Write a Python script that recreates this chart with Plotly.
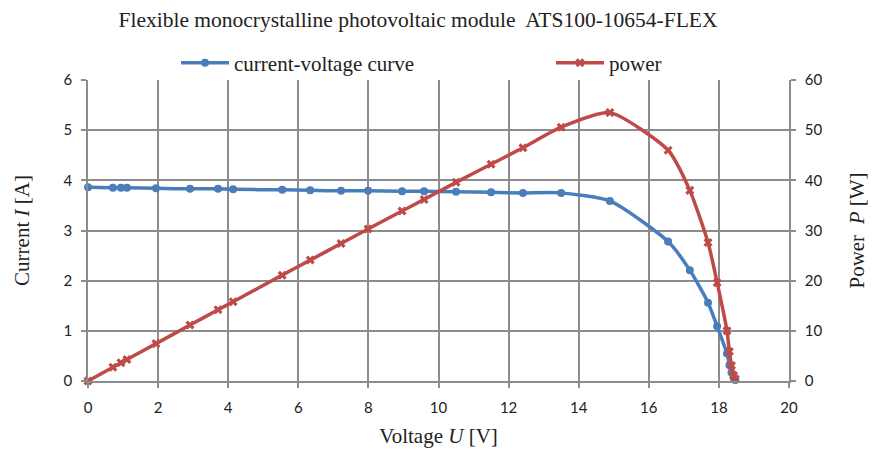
import plotly.graph_objects as go

# Measured I-V characteristic of the ATS100-10654-FLEX module
voltage_v = [0, 0.71, 0.94, 1.11, 1.94, 2.91, 3.71, 4.14, 5.54, 6.34, 7.22, 7.99,
             8.96, 9.59, 10.5, 11.5, 12.41, 13.5, 14.89, 16.55, 17.17, 17.69,
             17.95, 18.23, 18.30, 18.36, 18.42, 18.47]
current_a = [3.86, 3.85, 3.85, 3.85, 3.84, 3.83, 3.83, 3.82, 3.81, 3.80, 3.79, 3.79,
             3.78, 3.78, 3.77, 3.76, 3.75, 3.75, 3.59, 2.78, 2.21, 1.56,
             1.09, 0.55, 0.32, 0.17, 0.06, 0.02]
power_w = [0, 2.73, 3.62, 4.27, 7.45, 11.15, 14.2, 15.8, 21.1, 24.1, 27.4, 30.3,
           33.9, 36.2, 39.6, 43.2, 46.5, 50.6, 53.5, 46.0, 38.0, 27.6,
           19.6, 10.0, 5.9, 3.1, 1.1, 0.4]

x_ticks = list(range(0, 21, 2))
i_ticks = list(range(0, 7))
p_ticks = list(range(0, 61, 10))

BLUE = "#4A7EBB"
RED = "#BE4B48"
GRID = "#8C8C8C"
SERIF = "Liberation Serif, Times New Roman, serif"
SANS = "Lato, Open Sans, sans-serif"

fig = go.Figure()
fig.add_trace(go.Scatter(
    x=voltage_v, y=current_a, name="current-voltage curve",
    mode="lines+markers",
    line=dict(color=BLUE, width=3.5, shape="spline", smoothing=0.6),
    marker=dict(symbol="circle", size=8, color=BLUE),
    cliponaxis=False, yaxis="y", legend="legend", showlegend=True,
))
fig.add_trace(go.Scatter(
    x=voltage_v, y=power_w, name="power",
    mode="lines+markers",
    line=dict(color=RED, width=3.5, shape="spline", smoothing=0.6),
    marker=dict(symbol="x", size=8, color=RED),
    cliponaxis=False, yaxis="y2", legend="legend2", showlegend=True,
))

axis_common = dict(
    showgrid=True, gridcolor=GRID, gridwidth=1.5,
    showline=True, linecolor=GRID, linewidth=1.5,
    ticks="outside", ticklen=5, tickcolor=GRID, tickwidth=1.5,
    tickfont=dict(family=SANS, size=15, color="#222"),
    zeroline=False,
)

legend_common = dict(
    orientation="h", xanchor="left", xref="container",
    y=1 - 63 / 452, yanchor="middle", yref="container",
    font=dict(family=SERIF, size=21, color="#222"),
    itemwidth=48,
    bgcolor="rgba(0,0,0,0)",
)

fig.update_layout(
    width=872, height=452, showlegend=True,
    margin=dict(l=88, r=83, t=80, b=71, autoexpand=False),
    paper_bgcolor="white", plot_bgcolor="white",
    title=dict(
        text="Flexible monocrystalline photovoltaic module  ATS100-10654-FLEX",
        x=418 / 872, xref="container", xanchor="center",
        y=1 - 19 / 452, yref="container", yanchor="middle",
        font=dict(family=SERIF, size=21.5, color="#222"),
    ),
    legend=dict(x=176 / 872, **legend_common),
    legend2=dict(x=551 / 872, **legend_common),
    xaxis=dict(
        range=[0, 20], tickvals=x_ticks, mirror=False, ticklabelstandoff=7,
        title=dict(text="Voltage <i>U</i> [V]", standoff=14,
                   font=dict(family=SERIF, size=21, color="#222")),
        **axis_common,
    ),
    yaxis=dict(
        range=[0, 6], tickvals=i_ticks, ticklabelstandoff=6,
        title=dict(text="Current <i>I</i> [A]", standoff=28,
                   font=dict(family=SERIF, size=21, color="#222")),
        **axis_common,
    ),
    yaxis2=dict(
        range=[0, 60], tickvals=p_ticks, overlaying="y", side="right",
        ticklabelstandoff=6,
        title=dict(text="Power  <i>P</i> [W]", standoff=28,
                   font=dict(family=SERIF, size=21, color="#222")),
        **{**axis_common, "showgrid": False},
    ),
)

fig.write_html("out.html")
